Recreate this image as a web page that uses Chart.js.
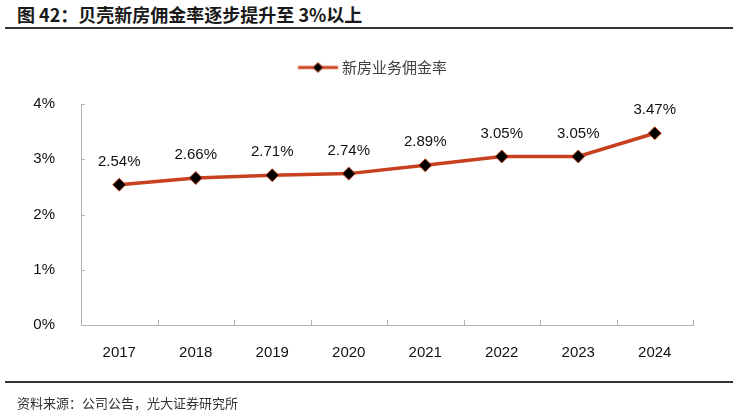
<!DOCTYPE html>
<html lang="zh-CN">
  <head>
    <meta charset="utf-8">
    <title>贝壳新房佣金率</title>
    <style>
      html, body {
        margin: 0;
        padding: 0;
        background: #fff;
      }
      #page {
        position: relative;
        width: 737px;
        height: 415px;
        overflow: hidden;
      }
      #title {
        position: absolute;
        left: 17px;
        top: 1px;
        font: bold 18px "Noto Sans CJK SC", sans-serif;
        color: #1a1a1a;
        white-space: nowrap;
      }
      #source {
        position: absolute;
        left: 17px;
        top: 393px;
        font: 13px "Noto Sans CJK SC", sans-serif;
        color: #333;
        white-space: nowrap;
      }
      .rule {
        position: absolute;
        left: 5px;
        width: 728px;
        height: 1.5px;
        background: #333;
      }
      canvas {
        position: absolute;
        left: 0;
        top: 0;
      }
    </style>
  </head>
  <body>
    <div id="page">
      <div id="title">图 42：贝壳新房佣金率逐步提升至 3%以上</div>
      <div class="rule" style="top:27px"></div>
      <canvas id="canvas" width="737" height="415"></canvas>
      <div class="rule" style="top:381px"></div>
      <div id="source">资料来源：公司公告，光大证券研究所</div>
    </div>

    <script src="https://cdn.jsdelivr.net/npm/chart.js"></script>
    <script>
      // values
      const years = ['2017', '2018', '2019', '2020', '2021', '2022', '2023', '2024'];
      const rates = [2.54, 2.66, 2.71, 2.74, 2.89, 3.05, 3.05, 3.47];
      const seriesName = '新房业务佣金率';
      const yMin = 0, yMax = 4, yStep = 1;

      const lineColor = '#c8401e';
      const axisColor = '#b3b3b3';
      const numFont = '"Liberation Sans", Arial, sans-serif';

      // legend symbol: line with a diamond, drawn in the right part of a wider
      // image so the legend item sits where it does in the reference
      const legendImg = document.createElement('canvas');
      legendImg.width = 92;
      legendImg.height = 14;
      (function () {
        let c = legendImg.getContext('2d');
        let x0 = 51.25, mid = x0 + 20;
        c.strokeStyle = lineColor;
        c.lineWidth = 3;
        c.beginPath();
        c.moveTo(x0, 7);
        c.lineTo(x0 + 40, 7);
        c.stroke();
        c.beginPath();
        c.moveTo(mid, 2);
        c.lineTo(mid + 5, 7);
        c.lineTo(mid, 12);
        c.lineTo(mid - 5, 7);
        c.closePath();
        c.fillStyle = '#000';
        c.fill();
        c.lineWidth = 1;
        c.stroke();
      })();

      // small ticks pointing into the plot, plus value labels
      const extras = {
        id: 'extras',
        afterDatasetsDraw(chart) {
          const ctx = chart.ctx;
          const x = chart.scales.x;
          const y = chart.scales.y;
          ctx.save();
          ctx.strokeStyle = axisColor;
          ctx.lineWidth = 1;
          ctx.beginPath();
          const n = years.length;
          for (let i = 0; i <= n; i++) {
            let px = Math.round(x.left + i * x.width / n) + 0.5;
            ctx.moveTo(px, y.bottom);
            ctx.lineTo(px, y.bottom - 5);
          }
          y.ticks.forEach((t, i) => {
            let py = Math.round(y.getPixelForTick(i)) + 0.5;
            ctx.moveTo(x.left, py);
            ctx.lineTo(x.left + 4, py);
          });
          ctx.stroke();

          ctx.fillStyle = '#111';
          ctx.font = '15px ' + numFont;
          ctx.textAlign = 'center';
          ctx.textBaseline = 'middle';
          chart.getDatasetMeta(0).data.forEach((pt, i) => {
            ctx.fillText(rates[i].toFixed(2) + '%', pt.x, pt.y - 23);
          });
          ctx.restore();
        }
      };

      let chart = new Chart(document.getElementById('canvas'), {
        type: 'line',
        data: {
          labels: years,
          datasets: [{
            label: seriesName,
            data: rates,
            borderColor: lineColor,
            borderWidth: 3.5,
            tension: 0,
            pointStyle: 'rectRot',
            pointRadius: 6.5,
            pointHoverRadius: 6.5,
            pointBackgroundColor: '#000',
            pointBorderColor: lineColor,
            pointBorderWidth: 1,
            clip: false
          }]
        },
        options: {
          responsive: false,
          animation: false,
          devicePixelRatio: 1,
          layout: {
            padding: { top: 50, left: 5, right: 44, bottom: 0 }
          },
          plugins: {
            tooltip: { enabled: false },
            legend: {
              position: 'top',
              labels: {
                usePointStyle: true,
                pointStyleWidth: 83.5,
                padding: 10,
                color: '#404040',
                font: { family: '"Noto Sans CJK SC", sans-serif', size: 15 },
                generateLabels: () => [{
                  text: seriesName,
                  pointStyle: legendImg,
                  fontColor: '#404040',
                  fillStyle: 'transparent',
                  strokeStyle: 'transparent',
                  lineWidth: 0,
                  hidden: false,
                  datasetIndex: 0
                }]
              }
            },
            // empty block: gap between legend and plot
            subtitle: {
              display: true,
              text: '',
              weight: 500,
              padding: 0,
              font: { size: 10, lineHeight: 1.9 }
            }
          },
          scales: {
            x: {
              offset: true,
              grid: { display: false },
              border: { color: axisColor, width: 1 },
              ticks: {
                color: '#111',
                padding: 11,
                font: { family: numFont, size: 15 }
              },
              afterFit: (s) => { s.height = 90; }
            },
            y: {
              min: yMin,
              max: yMax,
              grid: { display: false },
              border: { color: axisColor, width: 1 },
              ticks: {
                stepSize: yStep,
                color: '#111',
                padding: 18,
                font: { family: numFont, size: 15 },
                callback: (v) => v + '%'
              },
              afterFit: (s) => { s.width = 76; }
            }
          }
        },
        plugins: [extras]
      });
    </script>
  </body>
</html>
